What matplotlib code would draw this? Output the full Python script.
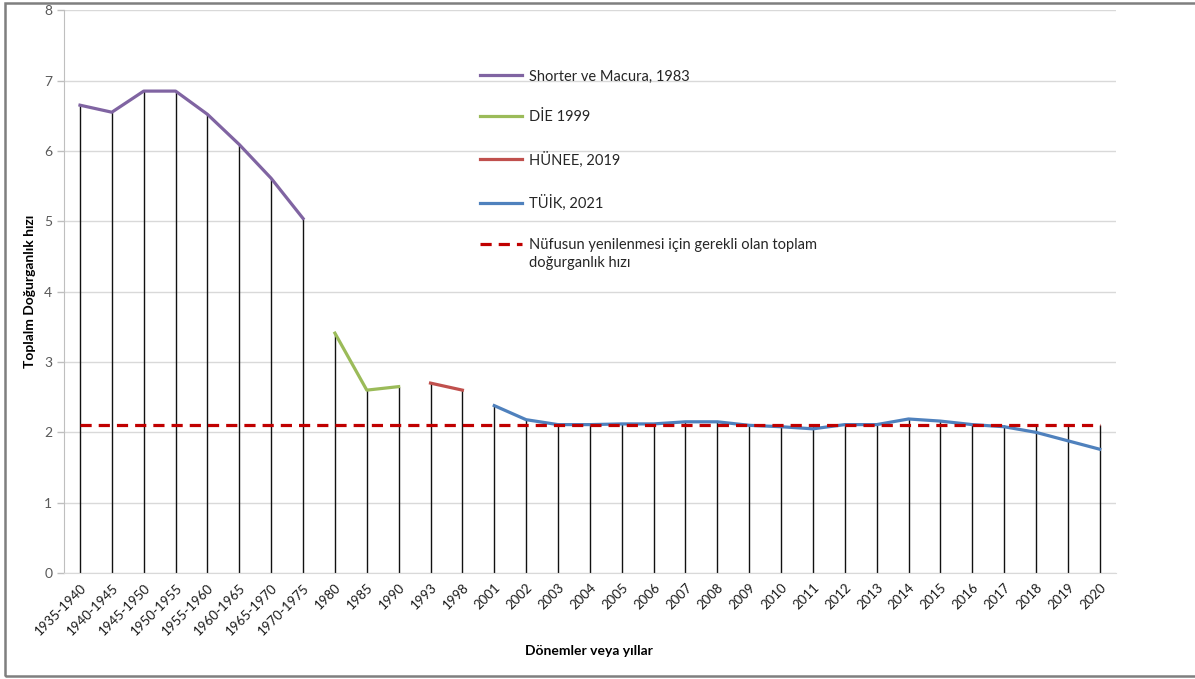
import numpy as np
import matplotlib
matplotlib.use("Agg")
import matplotlib.pyplot as plt
from matplotlib.patches import Rectangle

plt.rcParams['font.family'] = ['Lato', 'DejaVu Sans']

# categories (periods / years)
periods = ['1935-1940', '1940-1945', '1945-1950', '1950-1955', '1955-1960',
           '1960-1965', '1965-1970', '1970-1975', '1980', '1985', '1990',
           '1993', '1998', '2001', '2002', '2003', '2004', '2005', '2006',
           '2007', '2008', '2009', '2010', '2011', '2012', '2013', '2014',
           '2015', '2016', '2017', '2018', '2019', '2020']

# each source covers a run of categories
shorter_vals = [6.65, 6.55, 6.85, 6.85, 6.52, 6.09, 5.61, 5.04]   # 1935-1975
die_vals = [3.41, 2.60, 2.65]                                       # 1980-1990
hunee_vals = [2.70, 2.60]                                           # 1993, 1998
tuik_vals = [2.38, 2.18, 2.11, 2.11, 2.12, 2.12, 2.15, 2.15, 2.10,
             2.08, 2.05, 2.11, 2.11, 2.19, 2.16, 2.11, 2.08, 2.00,
             1.88, 1.76]                                             # 2001-2020
replacement = 2.1

n = len(periods)
x = np.arange(n)
s_shorter = x[0:8]
s_die = x[8:11]
s_hunee = x[11:13]
s_tuik = x[13:]

fig = plt.figure(figsize=(11.95, 6.79), dpi=100)
ax = fig.add_axes([0.0536, 0.156, 0.880, 0.829])

# drop lines from the highest value at each category down to 0
tops = np.full(n, replacement)
tops[s_shorter] = np.maximum(tops[s_shorter], shorter_vals)
tops[s_die] = np.maximum(tops[s_die], die_vals)
tops[s_hunee] = np.maximum(tops[s_hunee], hunee_vals)
tops[s_tuik] = np.maximum(tops[s_tuik], tuik_vals)
ax.vlines(x, 0, tops, color='#111111', linewidth=1.0, zorder=2)

ax.plot(s_shorter, shorter_vals, color='#8064A2', linewidth=2.3,
        label='Shorter ve Macura, 1983', zorder=3)
ax.plot(s_die, die_vals, color='#9BBB59', linewidth=2.3, label='DİE 1999', zorder=3)
ax.plot(s_hunee, hunee_vals, color='#C0504D', linewidth=2.3, label='HÜNEE, 2019', zorder=3)
ax.plot(s_tuik, tuik_vals, color='#4F81BD', linewidth=2.3, label='TÜİK, 2021', zorder=3)
ax.plot(x, np.full(n, replacement), color='#C00000', linewidth=2.3,
        linestyle=(0, (3.5, 2.2)),
        label='Nüfusun yenilenmesi için gerekli olan toplam', zorder=4)

ax.set_xlim(-0.5, n - 0.5)
ax.set_ylim(0, 8)
ax.set_yticks(range(0, 9))
ax.yaxis.grid(True, color='#d9d9d9', linewidth=1)
ax.set_axisbelow(True)
for side in ['top', 'right']:
    ax.spines[side].set_visible(False)
ax.spines['left'].set_color('#bfbfbf')
ax.spines['bottom'].set_color('#d9d9d9')
ax.tick_params(axis='y', colors='#bfbfbf', labelcolor='#595959', labelsize=10,
               length=5, width=1)
ax.tick_params(axis='x', length=0, labelsize=9.5, labelcolor='#1a1a1a', pad=6)
ax.set_xticks(x)
ax.set_xticklabels(periods, rotation=45, ha='right', rotation_mode='anchor')

ax.set_ylabel('Toplalm Doğurganlık hızı', fontsize=10, fontweight='bold', labelpad=6)
fig.text(589 / 1195, 1 - 651 / 679, 'Dönemler veya yıllar', fontsize=10,
         fontweight='bold', ha='center', va='center')

leg = ax.legend(loc='upper left', bbox_to_anchor=(0.39, 0.905), frameon=False,
                fontsize=10.5, handlelength=2.9, handletextpad=0.45,
                labelspacing=1.85, borderaxespad=0)
for t in leg.get_texts():
    t.set_color('#262626')
# second line of the last legend entry, under its first line
ax.annotate('doğurganlık hızı', xy=(0, 0), xycoords=leg.get_texts()[-1],
            xytext=(0, -3), textcoords='offset points', va='top', ha='left',
            fontsize=10.5, color='#262626', zorder=10)

# outer chart frame
fig.patches.append(Rectangle((5 / 1195, 3 / 679), 1.1, 1 - 6 / 679,
                             transform=fig.transFigure, fill=False,
                             edgecolor='#7f7f7f', linewidth=1.8))

fig.canvas.draw()
fig.savefig('out.png', dpi=100)
